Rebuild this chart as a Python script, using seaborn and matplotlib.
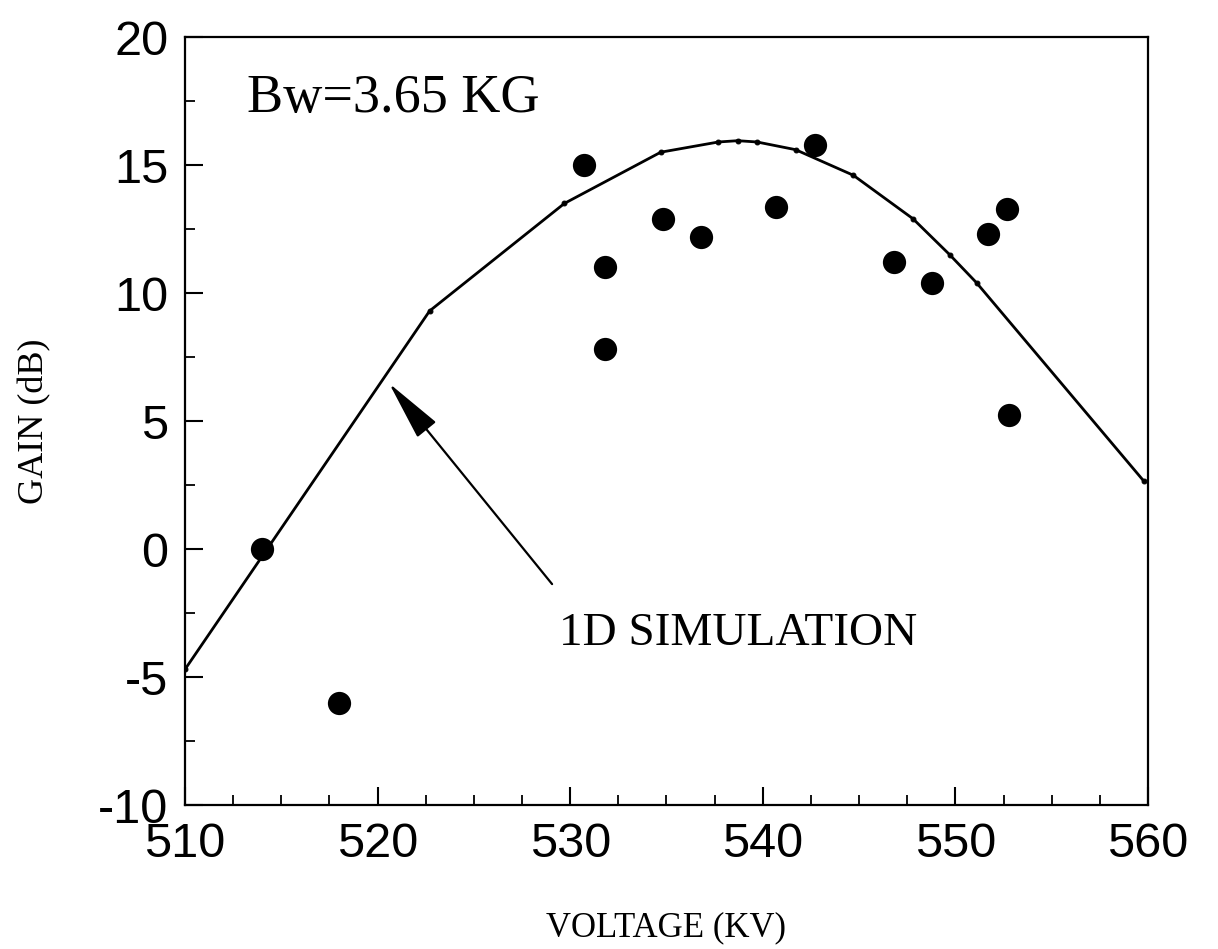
import numpy as np
import pandas as pd
import matplotlib
matplotlib.use("Agg")
import matplotlib.pyplot as plt
import seaborn as sns
from matplotlib.ticker import MultipleLocator

# 1D simulation curve
sim_voltage = [510.0, 522.7, 529.7, 534.7, 537.7, 538.7, 539.7, 541.7, 544.7, 547.8, 549.7, 551.1, 559.8]
sim_gain = [-4.7, 9.3, 13.5, 15.5, 15.9, 15.95, 15.9, 15.6, 14.6, 12.9, 11.5, 10.4, 2.64]

# measured points
exp_voltage = [514.0, 518.0, 530.7, 531.8, 531.8, 534.8, 536.8, 540.7, 542.7, 546.8, 548.8, 551.7, 552.7, 552.8]
exp_gain = [0.0, -6.0, 15.0, 11.0, 7.8, 12.9, 12.2, 13.35, 15.8, 11.2, 10.4, 12.3, 13.3, 5.25]

x_ticks = [510, 520, 530, 540, 550, 560]
y_ticks = [-10, -5, 0, 5, 10, 15, 20]

sns.set_style("ticks")
plt.rcParams["font.family"] = ["Liberation Sans", "DejaVu Sans"]
plt.rcParams["axes.unicode_minus"] = False
for k in ["text.color", "axes.labelcolor", "xtick.color", "ytick.color", "axes.edgecolor"]:
    plt.rcParams[k] = "black"

fig = plt.figure(figsize=(12.18, 9.49), dpi=100)
ax = fig.add_axes([0.1519, 0.1517, 0.7906, 0.8093])

sim_df = pd.DataFrame({"v": sim_voltage, "g": sim_gain})
exp_df = pd.DataFrame({"v": exp_voltage, "g": exp_gain})

sns.lineplot(data=sim_df, x="v", y="g", ax=ax, color="black", lw=2.0,
             marker="o", markersize=3.5, markeredgecolor="black",
             sort=False, estimator=None)
sns.scatterplot(data=exp_df, x="v", y="g", ax=ax, color="black", s=280,
                edgecolor="black", linewidth=0, zorder=5)

ax.set_xlim(510, 560)
ax.set_ylim(-10, 20)
ax.set_xticks(x_ticks)
ax.set_yticks(y_ticks)
ax.xaxis.set_minor_locator(MultipleLocator(2.5))
ax.yaxis.set_minor_locator(MultipleLocator(2.5))
ax.tick_params(which="major", direction="in", length=13, width=1.5, labelsize=35, pad=12)
ax.tick_params(which="minor", direction="in", length=7, width=1.3)
ax.tick_params(top=False, right=False, which="both")
for s in ax.spines.values():
    s.set_linewidth(1.6)
    s.set_color("black")

serif = ["Liberation Serif", "DejaVu Serif"]
ax.set_xlabel("VOLTAGE (KV)", fontsize=25, family=serif, labelpad=32)
ax.set_ylabel("GAIN (dB)", fontsize=26, family=serif, labelpad=34)

ax.text(513.2, 17.06, "Bw=3.65 KG", fontsize=39, family=serif, va="baseline", ha="left")
ax.text(529.4, -3.73, "1D SIMULATION", fontsize=34, family=serif, va="baseline", ha="left")

ax.annotate("", xy=(520.6, 6.47), xytext=(529.06, -1.37),
            arrowprops=dict(arrowstyle="-|>,head_length=1.9,head_width=0.38",
                            mutation_scale=20, lw=1.6, color="black",
                            shrinkA=0, shrinkB=0))

fig.savefig("out.png", dpi=100)
